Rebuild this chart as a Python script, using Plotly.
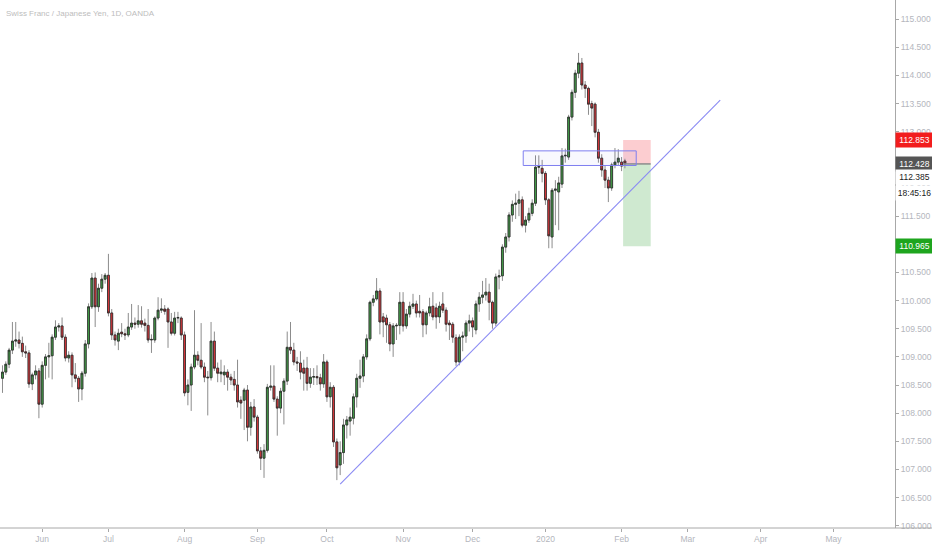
import pandas as pd
import plotly.graph_objects as go

# CHF/JPY daily candles, first bar 2019-05-16 (weekdays only)
opens = [
    108.62, 108.73, 108.87, 109.12, 109.28, 109.30, 109.24, 109.09, 109.07, 108.52,
    108.68, 108.75, 108.16, 108.85, 109.00, 109.02, 109.35, 109.53, 109.55, 109.35,
    108.98, 109.03, 108.68, 108.62, 108.43, 108.71, 109.23, 109.89, 110.40, 109.89,
    110.22, 110.38, 110.45, 109.78, 109.39, 109.28, 109.44, 109.41, 109.39, 109.53,
    109.60, 109.58, 109.64, 109.60, 109.56, 109.30, 109.30, 109.69, 109.83, 109.85,
    109.85, 109.62, 109.42, 109.69, 109.69, 109.39, 108.37, 108.50, 108.82, 109.03,
    108.94, 108.82, 108.64, 108.63, 109.28, 108.80, 108.70, 108.68, 108.73, 108.64,
    108.60, 108.50, 108.23, 108.23, 108.41, 107.75, 108.11, 107.93, 107.33, 107.20,
    107.34, 108.46, 108.48, 108.25, 108.09, 108.39, 108.57, 109.17, 109.12, 108.91,
    108.89, 108.80, 108.80, 108.53, 108.64, 108.65, 108.63, 108.52, 108.91, 108.29,
    108.46, 107.49, 107.08, 107.30, 107.79, 107.86, 107.91, 108.29, 108.62, 108.66,
    109.00, 109.32, 109.97, 110.03, 110.17, 109.71, 109.69, 109.57, 109.23, 109.55,
    109.56, 109.97, 109.55, 109.76, 109.90, 109.94, 109.81, 109.80, 109.57, 109.78,
    109.90, 109.87, 109.71, 109.94, 109.83, 109.60, 109.58, 109.34, 108.91, 109.35,
    109.37, 109.60, 109.64, 109.48, 109.94, 110.06, 110.10, 110.15, 109.97, 109.60,
    110.42, 110.44, 110.95, 111.13, 111.52, 111.71, 111.73, 111.79, 111.34, 111.43,
    111.55, 111.73, 112.37, 112.35, 112.26, 111.79, 111.13, 111.96, 111.93, 112.07,
    112.57, 112.55, 113.26, 113.70, 114.04, 114.22, 113.83, 113.77, 113.50, 113.49,
    112.99, 112.53, 112.32, 112.14, 112.00, 112.41, 112.46, 112.46, 112.48,
]
highs = [
    108.85, 108.92, 109.16, 109.62, 109.62, 109.45, 109.36, 109.20, 109.12, 108.72,
    108.85, 108.80, 108.92, 109.05, 109.25, 109.40, 109.65, 109.60, 109.70, 109.40,
    109.10, 109.08, 108.89, 108.66, 108.75, 109.30, 109.95, 110.49, 110.50, 110.30,
    110.47, 110.49, 110.83, 109.85, 109.45, 109.50, 109.60, 109.50, 109.78, 109.94,
    109.70, 109.92, 109.90, 109.68, 109.85, 109.40, 109.72, 110.06, 110.04, 109.92,
    109.88, 109.78, 109.80, 109.80, 109.72, 109.45, 108.60, 108.88, 109.83, 109.10,
    109.60, 108.90, 108.75, 109.62, 109.45, 108.90, 108.95, 108.85, 108.78, 108.70,
    108.75, 108.95, 108.30, 108.45, 108.50, 108.20, 108.25, 107.97, 107.40, 107.45,
    108.52, 108.85, 108.85, 108.30, 108.45, 108.62, 109.45, 109.62, 109.25, 109.00,
    109.10, 108.95, 109.00, 108.80, 108.80, 108.85, 108.70, 109.05, 108.95, 108.55,
    108.50, 107.55, 107.50, 107.90, 107.95, 108.10, 108.35, 108.70, 108.95, 109.05,
    109.40, 110.00, 110.10, 110.40, 110.22, 109.78, 109.75, 109.62, 109.60, 109.60,
    110.15, 110.15, 109.85, 109.98, 110.12, 110.00, 110.10, 109.85, 109.82, 110.05,
    110.15, 109.95, 109.98, 110.15, 109.88, 109.65, 109.62, 109.40, 109.40, 109.45,
    109.65, 109.75, 109.70, 110.00, 110.15, 110.35, 110.40, 110.30, 110.00, 110.48,
    110.55, 111.00, 111.20, 111.57, 111.78, 111.90, 111.95, 111.85, 111.50, 111.65,
    111.80, 112.58, 112.58, 112.50, 112.30, 111.82, 112.00, 112.14, 112.20, 112.71,
    112.70, 113.30, 113.75, 114.10, 114.40, 114.31, 113.90, 113.80, 113.55, 113.52,
    113.05, 112.60, 112.40, 112.20, 112.45, 112.71, 112.69, 112.55, 112.52,
]
lows = [
    108.36, 108.68, 108.80, 109.05, 109.18, 109.15, 109.00, 108.98, 108.45, 108.41,
    108.60, 107.91, 108.10, 108.60, 108.63, 108.60, 109.30, 109.45, 109.30, 108.92,
    108.90, 108.46, 108.55, 108.20, 108.23, 108.65, 109.15, 109.85, 109.53, 109.80,
    110.15, 110.30, 109.72, 109.30, 109.20, 109.12, 109.35, 109.30, 109.35, 109.48,
    109.50, 109.52, 109.52, 109.45, 109.25, 109.07, 109.25, 109.65, 109.78, 109.75,
    109.16, 109.38, 109.38, 109.60, 109.30, 108.30, 108.14, 108.04, 108.78, 108.85,
    108.78, 108.55, 107.96, 108.58, 108.75, 108.55, 108.55, 108.50, 108.40, 108.50,
    108.40, 108.10, 107.90, 107.70, 107.50, 107.60, 107.85, 107.28, 106.99, 106.85,
    107.30, 108.40, 108.20, 107.60, 108.00, 107.80, 108.50, 109.05, 108.85, 108.75,
    108.60, 108.40, 108.40, 108.45, 108.50, 108.50, 108.40, 108.45, 108.20, 108.10,
    107.40, 106.81, 106.90, 107.10, 107.55, 107.60, 107.80, 108.10, 108.45, 108.55,
    108.95, 109.28, 109.90, 110.00, 109.40, 109.35, 109.25, 109.10, 109.00, 109.30,
    109.40, 109.45, 109.50, 109.70, 109.85, 109.70, 109.70, 109.35, 109.40, 109.72,
    109.65, 109.50, 109.60, 109.78, 109.45, 109.30, 109.25, 108.84, 108.85, 109.10,
    109.25, 109.45, 109.35, 109.40, 109.80, 109.95, 110.00, 109.65, 109.50, 109.55,
    110.20, 110.35, 110.85, 111.05, 111.40, 111.45, 111.50, 111.30, 111.21, 111.38,
    111.50, 111.68, 112.25, 112.10, 111.70, 110.93, 110.93, 111.34, 111.25, 112.00,
    112.45, 112.50, 113.20, 113.60, 113.95, 113.75, 113.60, 113.30, 113.10, 112.90,
    112.45, 112.20, 112.00, 111.75, 111.95, 112.35, 112.40, 112.30, 112.35,
]
closes = [
    108.73, 108.87, 109.12, 109.28, 109.30, 109.24, 109.09, 109.07, 108.52, 108.68,
    108.75, 108.16, 108.85, 109.00, 109.02, 109.35, 109.53, 109.55, 109.35, 108.98,
    109.03, 108.68, 108.62, 108.43, 108.71, 109.23, 109.89, 110.40, 109.89, 110.22,
    110.38, 110.45, 109.78, 109.39, 109.30, 109.42, 109.41, 109.39, 109.53, 109.60,
    109.58, 109.64, 109.58, 109.56, 109.30, 109.31, 109.69, 109.83, 109.85, 109.81,
    109.62, 109.42, 109.69, 109.70, 109.39, 108.36, 108.50, 108.82, 109.03, 108.94,
    108.82, 108.64, 108.63, 109.28, 108.80, 108.71, 108.73, 108.73, 108.64, 108.59,
    108.50, 108.20, 108.18, 108.41, 107.75, 108.11, 107.93, 107.33, 107.20, 107.34,
    108.46, 108.48, 108.25, 108.09, 108.39, 108.57, 109.17, 109.12, 108.91, 108.89,
    108.73, 108.71, 108.53, 108.64, 108.65, 108.63, 108.52, 108.91, 108.29, 108.46,
    107.49, 107.03, 107.30, 107.79, 107.88, 107.93, 108.29, 108.62, 108.66, 109.00,
    109.32, 109.97, 110.03, 110.17, 109.62, 109.62, 109.57, 109.23, 109.55, 109.56,
    109.97, 109.55, 109.76, 109.90, 109.94, 109.78, 109.78, 109.57, 109.78, 109.89,
    109.71, 109.71, 109.90, 109.83, 109.58, 109.57, 109.35, 108.91, 109.35, 109.37,
    109.60, 109.64, 109.53, 109.94, 110.06, 110.10, 110.15, 109.97, 109.60, 110.42,
    110.44, 110.95, 111.13, 111.52, 111.71, 111.73, 111.79, 111.34, 111.43, 111.55,
    111.73, 112.37, 112.38, 112.26, 111.79, 111.15, 111.96, 111.98, 112.09, 112.57,
    112.58, 113.26, 113.70, 114.04, 114.22, 113.83, 113.77, 113.49, 113.42, 112.99,
    112.53, 112.32, 112.14, 112.00, 112.41, 112.46, 112.53, 112.39, 112.43,
]
dates = pd.bdate_range("2019-05-16", periods=len(closes)) + pd.Timedelta(hours=12)

month_ticks = ["2019-06-03", "2019-07-01", "2019-08-01", "2019-09-02", "2019-10-01",
               "2019-11-01", "2019-12-02", "2020-01-01", "2020-02-03", "2020-03-02",
               "2020-04-01", "2020-05-01"]
month_labels = ["Jun", "Jul", "Aug", "Sep", "Oct", "Nov", "Dec", "2020", "Feb", "Mar",
                "Apr", "May"]

# drawings
entry_price = 112.428
stop_price = 112.853
target_price = 110.965
zone_top, zone_bottom = 112.66, 112.40
trend_x = ["2019-10-07 12:00", "2020-03-16 07:00"]
trend_y = [106.74, 113.56]

UP, DOWN = "#45a64a", "#e8383d"
WICK, EDGE = "#8c8c8c", "#2a2a2a"
AXIS = "#a8a8a8"
TXT = "#b4b6bd"
FONT = "Liberation Sans, Arial, sans-serif"

body_hi = [max(o, c) for o, c in zip(opens, closes)]
body_lo = [min(o, c) for o, c in zip(opens, closes)]

fig = go.Figure()
# wicks (grey)
fig.add_trace(go.Candlestick(
    x=dates, open=opens, high=highs, low=lows, close=closes,
    increasing=dict(line=dict(color=WICK, width=1), fillcolor=UP),
    decreasing=dict(line=dict(color=WICK, width=1), fillcolor=DOWN),
    showlegend=False, hoverinfo="skip",
))
# bodies with dark outline
fig.add_trace(go.Candlestick(
    x=dates, open=opens, high=body_hi, low=body_lo, close=closes,
    increasing=dict(line=dict(color=EDGE, width=0.8), fillcolor=UP),
    decreasing=dict(line=dict(color=EDGE, width=0.8), fillcolor=DOWN),
    showlegend=False,
))
# trend line drawing
fig.add_trace(go.Scatter(
    x=trend_x, y=trend_y, mode="lines",
    line=dict(color="#8a8af3", width=1.1), showlegend=False, hoverinfo="skip",
))

pos_x0, pos_x1 = "2020-02-03 23:00", "2020-02-14 07:00"
fig.add_shape(type="rect", x0=pos_x0, x1=pos_x1, y0=entry_price, y1=stop_price,
              fillcolor="rgba(242,54,69,0.25)", line_width=0, layer="below")
fig.add_shape(type="rect", x0=pos_x0, x1=pos_x1, y0=target_price, y1=entry_price,
              fillcolor="rgba(76,175,80,0.27)", line_width=0, layer="below")
fig.add_shape(type="line", x0=pos_x0, x1=pos_x1, y0=entry_price, y1=entry_price,
              line=dict(color="#8c8c8c", width=1.5))
fig.add_shape(type="rect", x0="2019-12-23 19:00", x1="2020-02-07 22:00",
              y0=zone_bottom, y1=zone_top,
              fillcolor="rgba(120,120,240,0.05)", line=dict(color="#7f7ff0", width=1))
# bottom axis line continues under the price scale
fig.add_shape(type="line", xref="paper", yref="paper", x0=0, x1=1.05, y0=0, y1=0,
              line=dict(color=AXIS, width=1))

fig.add_annotation(xref="paper", yref="paper", x=0, y=1, xanchor="left", yanchor="top",
                   xshift=4, yshift=-7, showarrow=False,
                   text="Swiss Franc / Japanese Yen, 1D, OANDA",
                   font=dict(size=8, color="#bdbdbd", family=FONT))


def price_label(y, text, bg, fg):
    fig.add_annotation(xref="paper", yref="y", x=1, y=y, xanchor="left", yanchor="middle",
                       showarrow=False, text=text, bgcolor=bg, width=37, height=14,
                       align="center", borderpad=0,
                       font=dict(size=8.5, color=fg, family=FONT))


price_label(stop_price, "112.853", "#f21d1d", "white")
price_label(entry_price, "112.428", "#555555", "white")
price_label(112.19, "112.385", "white", "#222222")
price_label(111.91, "18:45:16", "white", "#222222")
price_label(target_price, "110.965", "#1ea51e", "white")

fig.update_layout(
    width=932, height=550,
    margin=dict(l=0, r=37, t=0, b=22),
    paper_bgcolor="white", plot_bgcolor="white",
    font=dict(family=FONT, size=8, color=TXT),
    hovermode=False, boxgap=0.2,
    xaxis=dict(
        range=["2019-05-15 18:00", "2020-05-28 02:00"],
        rangebreaks=[dict(bounds=["sat", "mon"])],
        rangeslider=dict(visible=False),
        tickvals=[pd.Timestamp(d) + pd.Timedelta(hours=12) for d in month_ticks],
        ticktext=month_labels,
        showgrid=False, zeroline=False, showline=False,
        ticks="outside", ticklen=3, tickcolor=AXIS,
        tickfont=dict(size=8.5, color=TXT, family=FONT),
    ),
    yaxis=dict(
        side="right", range=[105.96, 115.34],
        tick0=106, dtick=0.5, tickformat=".3f",
        showgrid=False, zeroline=False, showline=True, linecolor=AXIS,
        ticks="outside", ticklen=3, tickcolor=AXIS,
        tickfont=dict(size=8.5, color=TXT, family=FONT),
    ),
)

fig.write_html("out.html", config={"displayModeBar": False},
               post_script="document.body.style.margin='0';")
